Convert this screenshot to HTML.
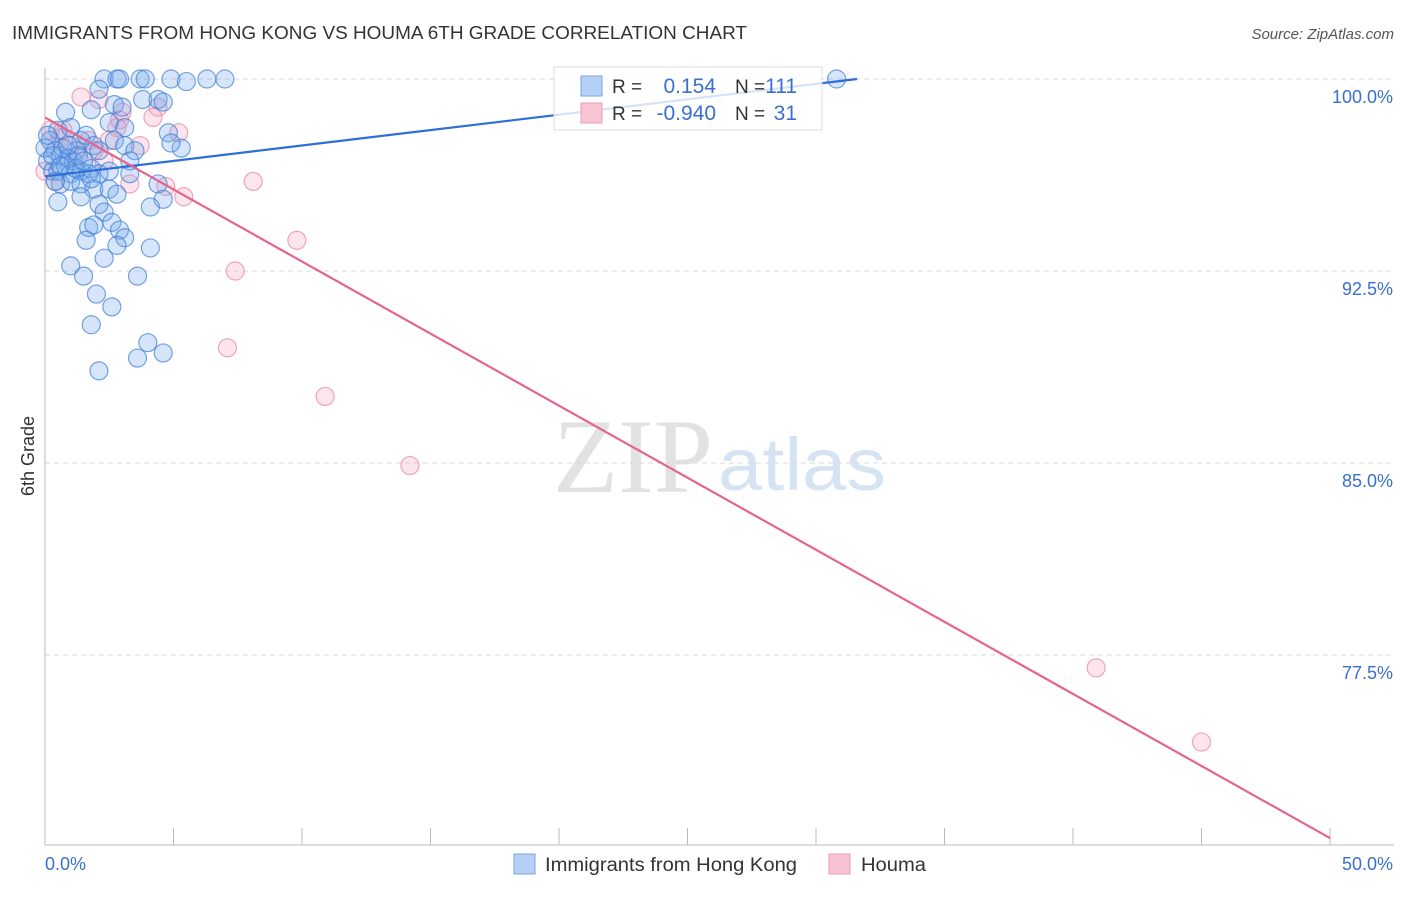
<!DOCTYPE html>
<html><head><meta charset="utf-8">
<style>
body{margin:0;background:#fff;font-family:"Liberation Sans",sans-serif;}
</style></head>
<body>
<svg id="chart" width="1406" height="892" xmlns="http://www.w3.org/2000/svg" font-family="Liberation Sans, sans-serif">
<text x="12" y="39" font-size="18" fill="#333" textLength="735" lengthAdjust="spacingAndGlyphs">IMMIGRANTS FROM HONG KONG VS HOUMA 6TH GRADE CORRELATION CHART</text>
<text x="1394" y="39" font-size="15" font-style="italic" fill="#555" text-anchor="end">Source: ZipAtlas.com</text>
<text x="553" y="492" font-size="106" font-family="Liberation Serif, serif" fill="#e2e2e2" textLength="160" lengthAdjust="spacingAndGlyphs">ZIP</text>
<text x="718" y="490" font-size="74" fill="#d6e3f3" textLength="168" lengthAdjust="spacingAndGlyphs">atlas</text>
<text transform="translate(34,456) rotate(-90)" font-size="18" fill="#333" text-anchor="middle">6th Grade</text>
<g id="grid"></g>
<g id="axes"></g>
<g id="points"></g>
<g id="lines"></g>
<g>
<rect x="554" y="67" width="268" height="63" fill="#fff" fill-opacity="0.8" stroke="#ddd"/>
<rect x="581" y="76" width="21" height="20" fill="#b4d0f4" stroke="#7aa6e0"/>
<rect x="581" y="103" width="21" height="20" fill="#f8c4d4" stroke="#ee9cb6"/>
<text x="612" y="93" font-size="19" fill="#333">R =</text>
<text x="716" y="93" font-size="21" fill="#3a6fd0" text-anchor="end">0.154</text>
<text x="735" y="93" font-size="19" fill="#333">N =</text>
<text x="797" y="93" font-size="21" fill="#3a6fd0" text-anchor="end">111</text>
<text x="612" y="120" font-size="19" fill="#333">R =</text>
<text x="716" y="120" font-size="21" fill="#3a6fd0" text-anchor="end">-0.940</text>
<text x="735" y="120" font-size="19" fill="#333">N =</text>
<text x="797" y="120" font-size="21" fill="#3a6fd0" text-anchor="end">31</text>
</g>
<g>
<rect x="514" y="854" width="21" height="20" fill="#b4d0f4" stroke="#7aa6e0"/>
<text x="545" y="871" font-size="19" fill="#333" textLength="252" lengthAdjust="spacingAndGlyphs">Immigrants from Hong Kong</text>
<rect x="829" y="854" width="21" height="20" fill="#f8c4d4" stroke="#ee9cb6"/>
<text x="861" y="871" font-size="19" fill="#333" textLength="65" lengthAdjust="spacingAndGlyphs">Houma</text>
</g>
</svg>
<script>
const xTicks=[0,5,10,15,20,25,30,35,40,45,50];
const yTicks=[100,92.5,85,77.5];
const yTickLabels=["100.0%","92.5%","85.0%","77.5%"];
const blueX=[2.3,2.8,2.9,3.7,3.9,4.9,5.5,6.3,7.0,30.8,2.1,2.7,3.0,3.8,4.4,4.6,0.8,1.8,2.5,3.1,4.8,5.3,4.9,0.5,1.0,0.2,0.4,0.6,0.1,0.3,0.5,0.8,1.1,1.2,1.4,1.6,1.9,2.1,1.0,1.4,1.8,2.1,2.5,3.3,2.7,3.1,3.5,3.3,0.6,1.0,1.4,1.9,2.5,2.8,0.5,1.4,4.4,4.6,4.1,2.1,2.3,2.6,2.9,3.1,1.7,1.9,1.6,2.8,4.1,1.0,1.5,2.3,3.6,2.0,2.6,1.8,4.0,4.6,3.6,2.1,0,0.1,0.7,0.9,1.2,1.7,1.8,0.3,0.6,1.3,0.9,1.5,0.4];
const blueY=[100,100,100,100,100,100,99.9,100,100,100,99.6,99.0,98.9,99.2,99.2,99.1,98.7,98.8,98.3,98.1,97.9,97.3,97.5,98.0,98.1,97.6,97.2,97.0,96.8,96.4,96.4,96.6,96.8,97.2,97.6,97.8,97.4,97.2,96.3,96.4,96.5,96.3,96.4,96.3,97.6,97.4,97.2,96.8,95.9,96.0,95.9,95.7,95.7,95.5,95.2,95.4,95.9,95.3,95.0,95.1,94.8,94.4,94.1,93.8,94.2,94.3,93.7,93.5,93.4,92.7,92.3,93.0,92.3,91.6,91.1,90.4,89.7,89.3,89.1,88.6,97.3,97.8,97.3,96.9,96.5,96.3,96.1,97.0,96.6,97.0,97.4,96.8,96.0];
const pinkX=[1.4,2.1,4.4,4.2,3.0,0.7,1.7,5.2,2.8,2.5,3.7,0,0.4,3.3,4.7,5.4,1.2,1.9,0.6,8.1,9.8,7.4,7.1,10.9,14.2,40.9,45.0,1.0,2.9,0.2,2.3];
const pinkY=[99.3,99.2,98.9,98.5,98.7,98.0,97.6,97.9,98.1,97.6,97.4,96.4,96.0,95.9,95.8,95.4,97.0,97.2,97.7,96.0,93.7,92.5,89.5,87.6,84.9,77.0,74.1,97.4,98.4,98.0,96.8];
const blueTrend=[[0,96.2],[31.6,100]];
const pinkTrend=[[0,98.5],[50,70.35]];
const NS="http://www.w3.org/2000/svg";
const X=v=>45+v/50*1285;
const Y=v=>79+(100-v)/7.5*192;
function mk(tag,attrs,parent){const e=document.createElementNS(NS,tag);for(const k in attrs)e.setAttribute(k,attrs[k]);parent.appendChild(e);return e;}
const grid=document.getElementById('grid'),axes=document.getElementById('axes'),pts=document.getElementById('points'),lines=document.getElementById('lines');
yTicks.forEach((t,i)=>{
 const l=mk('line',{x1:45,x2:1394,y1:Y(t),y2:Y(t),stroke:'#d8d8d8','stroke-dasharray':'5,4'},grid);
 
 
 const tx=mk('text',{x:1393,y:Y(t)+24,'font-size':18,fill:'#3a6fd0','text-anchor':'end'},axes);
 tx.textContent=yTickLabels[i];
 
 
});
const ax=mk('line',{x1:45,x2:45,y1:68,y2:845,stroke:'#bbb'},axes);


const bx=mk('line',{x1:45,x2:1394,y1:845,y2:845,stroke:'#bbb'},axes);


xTicks.forEach(t=>{
 const l=mk('line',{x1:X(t),x2:X(t),y1:828,y2:845,stroke:'#bbb'},axes);
 
 
});
const xl0=mk('text',{x:45,y:870,'font-size':18,fill:'#3a6fd0'},axes);xl0.textContent=xTicks[0].toFixed(1)+'%';


const xl1=mk('text',{x:1393,y:870,'font-size':18,fill:'#3a6fd0','text-anchor':'end'},axes);xl1.textContent=xTicks[xTicks.length-1].toFixed(1)+'%';


pinkX.forEach((v,i)=>{
 const c=mk('circle',{cx:X(v),cy:Y(pinkY[i]),r:9,fill:'rgba(244,160,190,0.28)',stroke:'rgba(232,130,165,0.7)','stroke-width':1.2},pts);
 
 
});
blueX.forEach((v,i)=>{
 const c=mk('circle',{cx:X(v),cy:Y(blueY[i]),r:9,fill:'rgba(120,170,235,0.3)',stroke:'rgba(60,125,215,0.7)','stroke-width':1.2},pts);
 
 
});
const bl=mk('line',{x1:X(blueTrend[0][0]),y1:Y(blueTrend[0][1]),x2:X(blueTrend[1][0]),y2:Y(blueTrend[1][1]),stroke:'#2d6fd6','stroke-width':2.2},lines);


const pl=mk('line',{x1:X(pinkTrend[0][0]),y1:Y(pinkTrend[0][1]),x2:X(pinkTrend[1][0]),y2:Y(pinkTrend[1][1]),stroke:'#e4648f','stroke-width':2.2},lines);


</script>
</body></html>
